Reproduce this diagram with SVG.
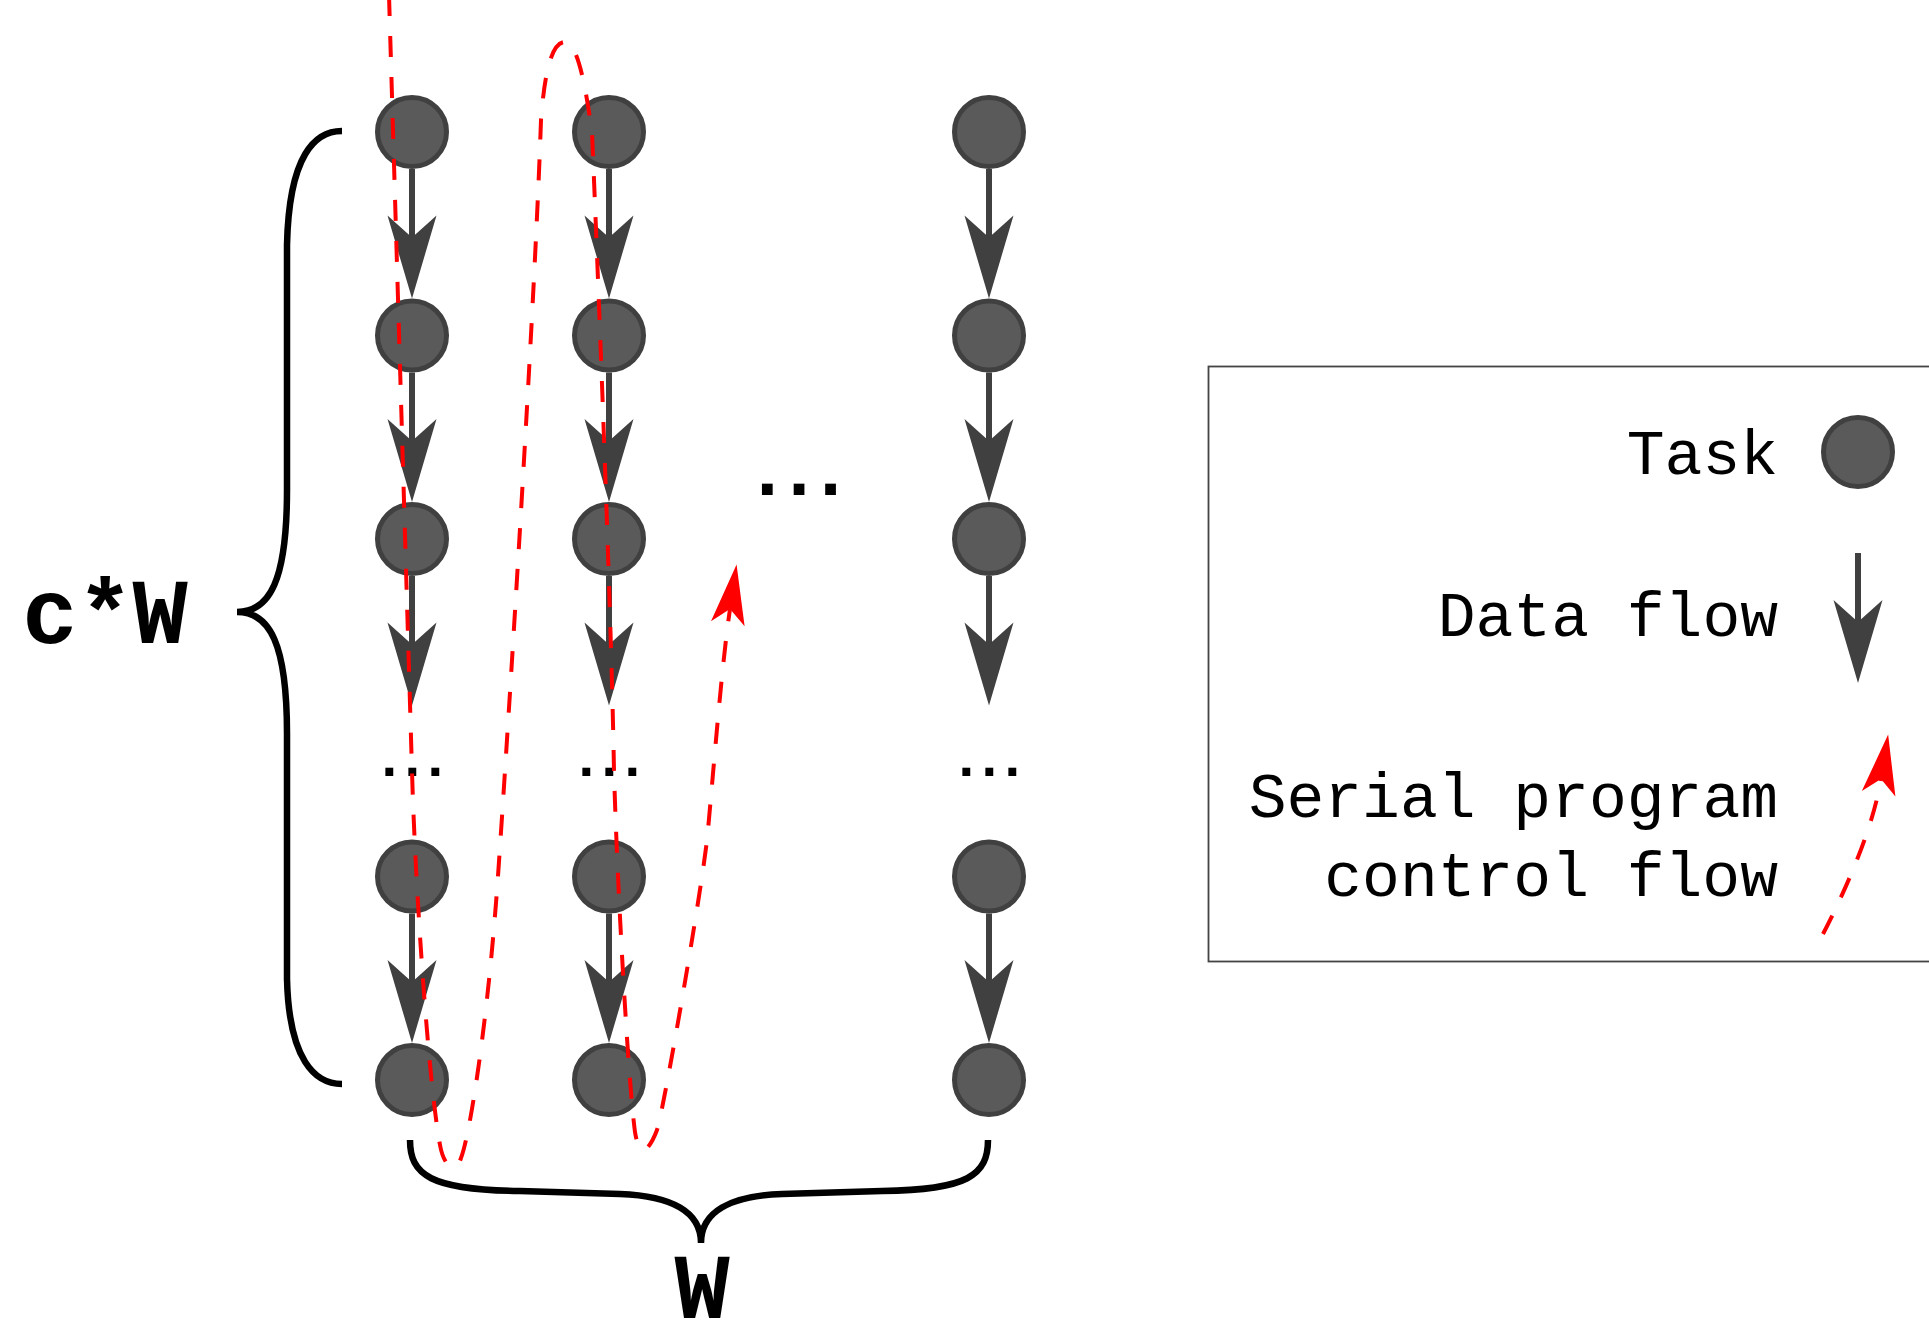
<svg xmlns="http://www.w3.org/2000/svg" width="1929" height="1323" viewBox="0 0 1929 1323">
<defs>
<style>
.task{fill:#5a5a5a;stroke:#404040;stroke-width:5}
.data{stroke:#404040;stroke-width:6;fill:none;marker-end:url(#dataHead)}
.ctrl{stroke:#ff0000;stroke-width:4;fill:none;stroke-dasharray:21 20;marker-end:url(#ctrlHead)}
.brace{stroke:#000;stroke-width:6.5;fill:none;stroke-linecap:butt}
.lbl{font-family:"Liberation Mono","Courier New",monospace;fill:#000}
.big{font-size:92px;font-weight:bold}
.leg{font-size:63px}
.dots{font-weight:bold;font-size:56px;letter-spacing:-10.6px}
.dots-mid{font-weight:bold;font-size:76px;letter-spacing:-14px}
</style>
<marker id="dataHead" markerUnits="userSpaceOnUse" markerWidth="84" markerHeight="50" refX="30" refY="25" orient="auto" overflow="visible">
<path d="M0,0.5 L83,25 L0,49.5 L22,25 Z" fill="#404040"/>
</marker>
<marker id="ctrlHead" markerUnits="userSpaceOnUse" markerWidth="61" markerHeight="35" refX="15" refY="17.5" orient="auto" overflow="visible">
<path d="M0,0.5 L60,17.5 L0,34.5 L15,17.5 Z" fill="#ff0000"/>
</marker>
</defs>
<rect width="1929" height="1323" fill="#ffffff"/>

<g id="brace-rows">
<path class="brace" d="M342,131 C315,131 289,155 287,245 L287,490 C287,580 270,612 237,612 C270,612 287,644 287,734 L287,979 C289,1060 315,1084 342,1084"/>
<text class="lbl big" x="105" y="643" text-anchor="middle">c*W</text>
</g>
<g id="brace-cols">
<path class="brace" d="M410,1140 C410,1175 430,1190 520,1191 L620,1194 C672,1196 701,1212 701,1243 C701,1212 730,1196 782,1194 L882,1191 C968,1190 988,1175 988,1140"/>
<text class="lbl big" x="702" y="1318" text-anchor="middle">W</text>
</g>

<g id="nodes">
<g id="task-c1-r1"><circle class="task" cx="412" cy="132" r="34.5"/></g>
<g id="task-c1-r2"><circle class="task" cx="412" cy="335.5" r="34.5"/></g>
<g id="task-c1-r3"><circle class="task" cx="412" cy="539" r="34.5"/></g>
<g id="task-c1-r5"><circle class="task" cx="412" cy="876.5" r="34.5"/></g>
<g id="task-c1-r6"><circle class="task" cx="412" cy="1080" r="34.5"/></g>
<g id="task-c2-r1"><circle class="task" cx="609" cy="132" r="34.5"/></g>
<g id="task-c2-r2"><circle class="task" cx="609" cy="335.5" r="34.5"/></g>
<g id="task-c2-r3"><circle class="task" cx="609" cy="539" r="34.5"/></g>
<g id="task-c2-r5"><circle class="task" cx="609" cy="876.5" r="34.5"/></g>
<g id="task-c2-r6"><circle class="task" cx="609" cy="1080" r="34.5"/></g>
<g id="task-c3-r1"><circle class="task" cx="989" cy="132" r="34.5"/></g>
<g id="task-c3-r2"><circle class="task" cx="989" cy="335.5" r="34.5"/></g>
<g id="task-c3-r3"><circle class="task" cx="989" cy="539" r="34.5"/></g>
<g id="task-c3-r5"><circle class="task" cx="989" cy="876.5" r="34.5"/></g>
<g id="task-c3-r6"><circle class="task" cx="989" cy="1080" r="34.5"/></g>
<g id="ellipsis-c1"><text class="lbl dots" x="407" y="776" text-anchor="middle">...</text></g>
<g id="ellipsis-c2"><text class="lbl dots" x="604" y="776" text-anchor="middle">...</text></g>
<g id="ellipsis-c3"><text class="lbl dots" x="984" y="776" text-anchor="middle">...</text></g>
<g id="ellipsis-mid"><text class="lbl dots-mid" x="792" y="495" text-anchor="middle">...</text></g>
</g>

<g id="connectors">
<g id="data-flow">
<line class="data" x1="412" y1="169" x2="412" y2="245.5"/>
<line class="data" x1="412" y1="372.5" x2="412" y2="449"/>
<line class="data" x1="412" y1="576" x2="412" y2="652.5"/>
<line class="data" x1="412" y1="913.5" x2="412" y2="990"/>
<line class="data" x1="609" y1="169" x2="609" y2="245.5"/>
<line class="data" x1="609" y1="372.5" x2="609" y2="449"/>
<line class="data" x1="609" y1="576" x2="609" y2="652.5"/>
<line class="data" x1="609" y1="913.5" x2="609" y2="990"/>
<line class="data" x1="989" y1="169" x2="989" y2="245.5"/>
<line class="data" x1="989" y1="372.5" x2="989" y2="449"/>
<line class="data" x1="989" y1="576" x2="989" y2="652.5"/>
<line class="data" x1="989" y1="913.5" x2="989" y2="990"/>
</g>
<g id="control-flow">
<path class="ctrl" d="M389,-5 L412,771 C415,880 428,1080 440,1145 C444,1167 455,1175 461,1158 C470,1135 488,1020 498,876 C508,732 535,300 541,120 C544,80 550,42 565,42 C578,42 586,90 592,132 C597,250 611,600 614,771 C617,880 628,1080 635,1132 C637,1145 641,1152 645,1150 C650,1146 654,1138 657,1130 C664,1108 700,900 707,840 C712,790 721,670 730,609"/>
</g>
</g>

<g id="legend">
<rect x="1208.5" y="366.5" width="800" height="595" fill="none" stroke="#444444" stroke-width="1.8"/>
<g id="legend-task">
<text class="lbl leg" x="1778" y="474" text-anchor="end">Task</text>
<circle class="task" cx="1858" cy="452" r="34.5"/>
</g>
<g id="legend-data">
<text class="lbl leg" x="1778" y="636" text-anchor="end">Data flow</text>
<line class="data" x1="1858" y1="553" x2="1858" y2="630"/>
</g>
<g id="legend-control">
<text class="lbl leg" x="1778" y="817" text-anchor="end">Serial program</text>
<text class="lbl leg" x="1778" y="896" text-anchor="end">control flow</text>
<path class="ctrl" d="M1823,934 C1838,905 1872,835 1881,779"/>
</g>
</g>
</svg>
